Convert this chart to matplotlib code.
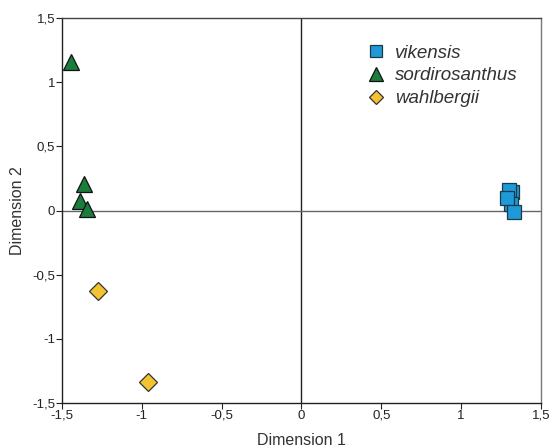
import matplotlib.pyplot as plt

plt.rcParams["font.family"] = ["Liberation Sans", "DejaVu Sans"]

# Ordination scores
vik_x = [1.32, 1.30, 1.31, 1.287, 1.334]
vik_y = [0.145, 0.16, 0.05, 0.097, -0.01]
sor_x = [-1.443, -1.36, -1.39, -1.345]
sor_y = [1.157, 0.21, 0.075, 0.01]
wah_x = [-1.275, -0.961]
wah_y = [-0.627, -1.339]

ticks = [-1.5, -1, -0.5, 0, 0.5, 1, 1.5]
tick_labels = ["-1,5", "-1", "-0,5", "0", "0,5", "1", "1,5"]

fig = plt.figure(figsize=(5.54, 4.48), dpi=100)
ax = fig.add_axes([0.1119, 0.1004, 0.8646, 0.8594])

ax.axvline(0, color="#222222", lw=1.0, zorder=1)
ax.axhline(0, color="#666666", lw=1.0, zorder=1)

ax.plot(vik_x, vik_y, "s", ms=10.5, mfc="#1f9ad8", mec="#1a3a4a", mew=0.9, ls="none", label="vikensis", zorder=3)
ax.plot(sor_x, sor_y, "^", ms=12, mfc="#1a7d3c", mec="#111111", mew=0.9, ls="none", label="sordirosanthus", zorder=3)
ax.plot(wah_x, wah_y, "D", ms=9.5, mfc="#f4c430", mec="#333333", mew=0.9, ls="none", label="wahlbergii", zorder=3)

ax.set_xlim(-1.5, 1.5)
ax.set_ylim(-1.5, 1.5)
ax.set_xticks(ticks, tick_labels)
ax.set_yticks(ticks, tick_labels)
ax.tick_params(direction="out", length=4, width=0.8, labelsize=9.5, colors="#222222", pad=1)
ax.spines["left"].set_color("#222222")
ax.spines["bottom"].set_color("#222222")
ax.spines["top"].set_color("#444444")
ax.spines["right"].set_color("#777777")
for s in ax.spines.values():
    s.set_linewidth(1.0)

ax.set_xlabel("Dimension 1", fontsize=11.5, color="#333333", labelpad=8)
ax.set_ylabel("Dimension 2", fontsize=11.5, color="#333333", labelpad=5)

leg = ax.legend(loc="upper left", bbox_to_anchor=(0.59, 0.975), frameon=False,
                markerscale=0.8, handlelength=1.6, handletextpad=0.2, labelspacing=0.3,
                prop={"style": "italic", "size": 13.5})
for t in leg.get_texts():
    t.set_color("#333333")

fig.savefig("out.png", dpi=100)
